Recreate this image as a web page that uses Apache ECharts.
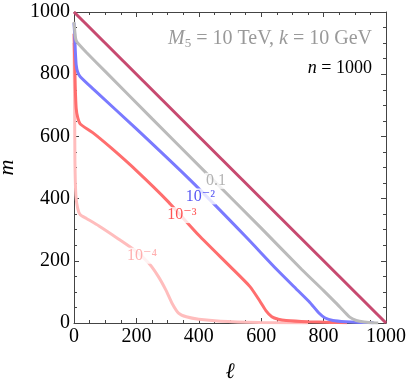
<!DOCTYPE html>
<html>
<head>
<meta charset="utf-8">
<script src="https://cdn.jsdelivr.net/npm/echarts@6/dist/echarts.min.js"></script>
<style>
  html, body { margin: 0; padding: 0; background: #fff; }
  #chart { width: 407px; height: 380px; }
</style>
</head>
<body>
<div id="chart"></div>
<script>
// contour values, points are [l, m]
const curveKin = [[0, 1000], [1000, 0]]
const curve01 = [[0, 968], [2, 945], [4, 922], [7, 908], [14, 898], [40, 870], [100, 809], [250, 657], [425, 481], [600, 305], [730, 172], [800, 104], [840, 64], [865, 38], [885, 18], [905, 8], [930, 3], [955, 1], [975, 0]]
const curve1e2 = [[0, 965], [2, 930], [4, 880], [7, 830], [12, 806], [20, 792], [62, 752], [200, 624], [372, 460], [550, 278], [650, 172], [720, 102], [756, 66], [785, 32], [805, 16], [830, 8], [870, 4], [920, 2], [960, 1]]
const curve1e3 = [[0, 930], [2, 850], [4, 760], [7, 690], [12, 660], [20, 640], [60, 612], [120, 562], [200, 490], [300, 392], [400, 282], [500, 182], [564, 117], [596, 70], [615, 40], [634, 20], [655, 12], [680, 8], [750, 4], [820, 2], [875, 1]]
const curve1e4 = [[0, 900], [2, 700], [3, 520], [6, 410], [12, 368], [20, 348], [40, 336], [80, 312], [140, 272], [200, 230], [240, 192], [270, 150], [295, 105], [315, 62], [335, 32], [360, 20], [400, 12], [470, 6], [596, 2], [750, 0]]

// contour labels: [l, m, text, colour]
const contourLabels = [
  [455, 457, '0.1', '#a0a0a0'],
  [405, 407, '10⁻²', '#2c2cf0'],
  [346, 347, '10⁻³', '#ff2a2a'],
  [218, 216, '10⁻⁴', '#ff9c9c']
]

const serif = '"Liberation Serif", "DejaVu Serif", serif'

const chart = echarts.init(document.getElementById('chart'))

function axisBase(showLabels, pos) {
  return {
    type: 'value',
    min: 0,
    max: 1000,
    interval: 200,
    position: pos,
    axisLine: { show: true, onZero: false, lineStyle: { color: '#444', width: 1 } },
    axisTick: { show: true, inside: true, length: 5, lineStyle: { color: '#444' } },
    minorTick: { show: true, splitNumber: 4, length: 3, lineStyle: { color: '#444' } },
    splitLine: { show: false },
    axisLabel: {
      show: showLabels, fontFamily: serif, fontSize: 20, color: '#000', margin: 4,
      formatter: v => String(v)
    }
  }
}

function line(data, color, width) {
  return {
    type: 'line',
    data: data,
    xAxisIndex: 0,
    yAxisIndex: 0,
    showSymbol: false,
    smooth: 0.2,
    lineStyle: { color: color, width: width },
    silent: true,
    z: 2
  }
}

const option = {
  animation: false,
  grid: { left: 74, right: 21, top: 12, bottom: 57, outerBoundsMode: 'none', containLabel: false },
  xAxis: [
    Object.assign(axisBase(true, 'bottom'), {
      name: 'ℓ', nameLocation: 'middle', nameGap: 38,
      nameTextStyle: { fontFamily: serif, fontStyle: 'italic', fontSize: 22, color: '#000' }
    }),
    axisBase(false, 'top')
  ],
  yAxis: [
    Object.assign(axisBase(true, 'left'), {
      name: 'm', nameLocation: 'middle', nameGap: 56, nameRotate: 90,
      nameTextStyle: { fontFamily: serif, fontStyle: 'italic', fontSize: 22, color: '#000' }
    }),
    axisBase(false, 'right')
  ],
  series: [
    line(curve1e4, '#ffbdbd', 3),
    line(curve1e3, '#ff6e6e', 3),
    line(curve1e2, '#7a7aff', 3),
    line(curve01, '#bbbbbb', 3),
    line(curveKin, '#c74a70', 3),
    {
      type: 'scatter',
      symbolSize: 0,
      silent: true,
      z: 5,
      data: contourLabels.map(d => ({
        value: [d[0], d[1]],
        label: {
          show: true,
          position: 'inside',
          formatter: d[2],
          color: d[3],
          fontFamily: serif,
          fontSize: 16,
          backgroundColor: '#fff',
          padding: [0, 1]
        }
      }))
    }
  ],
  graphic: [
    {
      type: 'text',
      right: 35,
      top: 29,
      style: {
        text: '{i|M}{s|5} = 10 TeV, {i|k} = 10 GeV',
        fill: '#999',
        fontFamily: serif,
        fontSize: 20,
        rich: {
          i: { fontStyle: 'italic', fontFamily: serif, fontSize: 20, fill: '#999' },
          s: { fontFamily: serif, fontSize: 13, fill: '#999', verticalAlign: 'bottom', padding: [9, 0, 0, 0] }
        }
      }
    },
    {
      type: 'text',
      right: 35,
      top: 59,
      style: {
        text: '{i|n} = 1000',
        fill: '#000',
        fontFamily: serif,
        fontSize: 18,
        rich: {
          i: { fontStyle: 'italic', fontFamily: serif, fontSize: 18, fill: '#000' }
        }
      }
    }
  ]
}

chart.setOption(option)
</script>
</body>
</html>
